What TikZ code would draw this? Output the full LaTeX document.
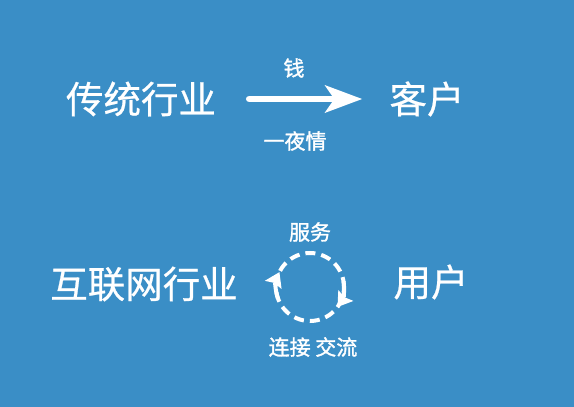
\documentclass[tikz,border=0pt]{standalone}
\usepackage{fontspec}
\setmainfont{Noto Sans CJK SC}
\newfontfamily\cjkmid{Noto Sans CJK SC}[FakeBold=0.6]
\newfontfamily\cjkbold{Noto Sans CJK SC}[FakeBold=1.4]
\usepackage{tikz}
\usetikzlibrary{arrows.meta, positioning}
\definecolor{bgblue}{RGB}{58,142,198}

\begin{document}
\begin{tikzpicture}[
        x=1pt, y=-1pt,
        big/.style={
            text=white,
            inner sep=2pt,
            font=\cjkmid\fontsize{37.5}{40}\selectfont
        },
        small/.style={
            text=white,
            inner sep=1pt,
            font=\cjkbold\fontsize{21}{23}\selectfont
        },
        arr/.style={-{Stealth[length=37pt, width=27pt, inset=9pt]}, white, line width=6.5pt, line cap=round},
        loopline/.style={white, line width=4pt, dash pattern=on 10pt off 6pt},
        looptip/.style={-{Stealth[length=14pt, width=18pt, inset=2pt]}, white, line width=4pt}
    ]
        \fill[bgblue] (0,0) rectangle (574,407);
        \useasboundingbox (0,0) rectangle (574,407);
        % upper row
        \node[big] (trad) at (141,99) {传统行业};
        \node[big] (client) at (427,99) {客户};
        \node[small] (money) at (294,68) {钱};
        \node[small] (onenight) at (295,141) {一夜情};
        \draw[arr, shorten <=31pt, shorten >=25pt] (trad) -- (client);
        % lower row
        \node[big] (internet) at (144,284) {互联网行业};
        \node[big] (user) at (431,282) {用户};
        \node[small] (service) at (310,232) {服务};
        \node[small] (connect) at (313,347) {连接 交流};
        \coordinate (cyc) at (310,287);
        \draw[loopline] (cyc) circle (34pt);
        \draw[looptip] (cyc) ++(200:34pt) arc[start angle=200, end angle=154, radius=34pt];
        \draw[looptip] (cyc) ++(10:34pt) arc[start angle=10, end angle=-36, radius=34pt];
\end{tikzpicture}
\end{document}
